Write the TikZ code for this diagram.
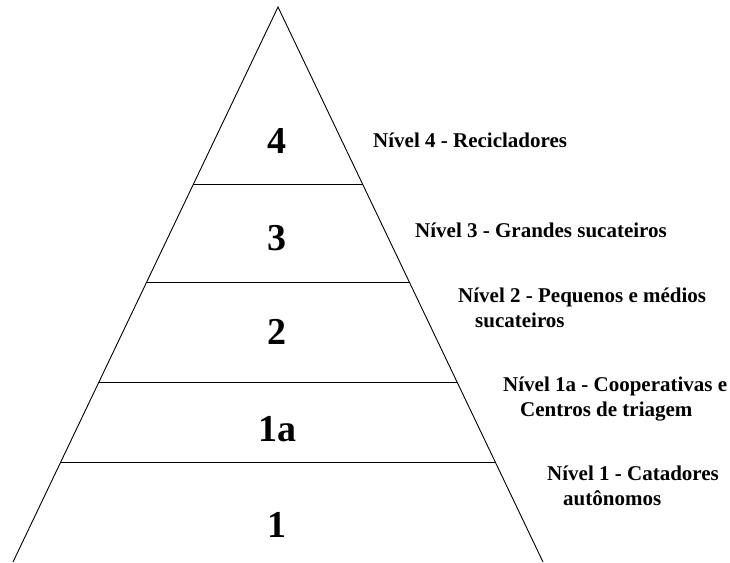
\documentclass[tikz,border=0pt]{standalone}
\usepackage{fontspec}
\setmainfont{Liberation Serif}
\usetikzlibrary{calc}

\begin{document}
\begin{tikzpicture}[x=1pt, y=-1pt,
    levelnum/.style={anchor=base, font=\bfseries\fontsize{38}{40}\selectfont},
    levellabel/.style={anchor=base west, align=left, inner sep=0pt,
        font=\bfseries\fontsize{21}{24.5}\selectfont}]
    \useasboundingbox (0,0) rectangle (730,562);

    % Pyramid outline
    \coordinate (apex) at (278,7);
    \coordinate (baseL) at (13,562);
    \coordinate (baseR) at (543,562);
    \draw[line width=0.9pt] (baseL) -- (apex) -- (baseR);

    % Layer separators
    \foreach \t/\n in {0.319/a, 0.497/b, 0.677/c, 0.820/d} {
        \coordinate (sepL\n) at ($(apex)!\t!(baseL)$);
        \coordinate (sepR\n) at ($(apex)!\t!(baseR)$);
        \draw[line width=1pt] (sepL\n) -- (sepR\n);
    }

    % Level numbers
    \node[levelnum] (n4) at (277,153) {4};
    \node[levelnum] (n3) at (277,250) {3};
    \node[levelnum] (n2) at (277,344) {2};
    \node[levelnum] (n1a) at (277,441) {1a};
    \node[levelnum] (n1) at (277,537) {1};

    % Level descriptions
    \node[levellabel] (l4) at (373,147) {Nível 4 - Recicladores};
    \node[levellabel] (l3) at (415,237) {Nível 3 - Grandes sucateiros};
    \node[levellabel] (l2) at (458,327) {Nível 2 - Pequenos e médios\\\hspace*{17pt}sucateiros};
    \node[levellabel] (l1a) at (503,416) {Nível 1a - Cooperativas e\\\hspace*{17pt}Centros de triagem};
    \node[levellabel] (l1) at (547,505) {Nível 1 - Catadores\\\hspace*{16pt}autônomos};
\end{tikzpicture}
\end{document}
